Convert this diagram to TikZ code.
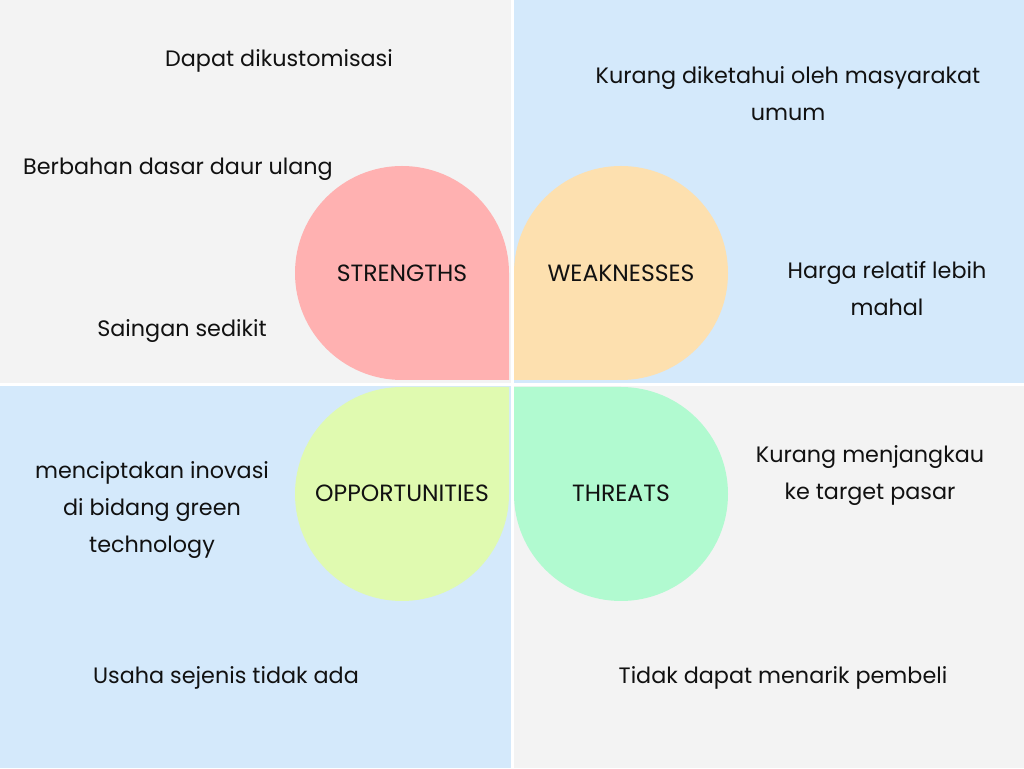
\documentclass[tikz,border=0pt]{standalone}
\usepackage{fontspec}
\setmainfont{Poppins}
\usepackage{tikz}
\definecolor{bggray}{HTML}{F3F3F3}
\definecolor{bgblue}{HTML}{D4E9FB}
\definecolor{spink}{HTML}{FFB1B1}
\definecolor{worange}{HTML}{FDE0AF}
\definecolor{ogreen}{HTML}{E0FAB0}
\definecolor{tmint}{HTML}{B1FAD0}
\definecolor{ink}{HTML}{111111}

\begin{document}
\begin{tikzpicture}[x=1pt,y=1pt,label/.style={font=\fontsize{22.3}{37}\selectfont,text=ink,align=center,inner sep=0},petal/.style={label,font=\fontsize{23.5}{37}\selectfont}]
	\useasboundingbox (0,0) rectangle (1024,768);
	\fill[white] (0,0) rectangle (1024,768);
	\fill[bggray] (0,385) rectangle (511,768);
	\fill[bgblue] (514,385) rectangle (1024,768);
	\fill[bgblue] (0,0) rectangle (511,382);
	\fill[bggray] (514,0) rectangle (1024,382);
	\fill[spink] (509,495) arc (0:270:107) -- (509,388) -- cycle;
	\fill[worange] (621,388) arc (-90:180:107) -- (514,388) -- cycle;
	\fill[ogreen] (402,381) arc (90:360:107) -- (509,381) -- cycle;
	\fill[tmint] (514,274) arc (180:450:107) -- (514,381) -- cycle;
	\node at (402,495) [petal] (s) {STRENGTHS};
	\node at (621,495) [petal] (w) {WEAKNESSES};
	\node at (402,275) [petal] (o) {OPPORTUNITIES};
	\node at (621,275) [petal] (t) {THREATS};
	\node at (279,707) [label] (s1) {Dapat dikustomisasi};
	\node at (178,599) [label] (s2) {Berbahan dasar daur ulang};
	\node at (182,437) [label] (s3) {Saingan sedikit};
	\node at (788,674) [label] (w1) {Kurang diketahui oleh masyarakat\\umum};
	\node at (887,479) [label] (w2) {Harga relatif lebih\\mahal};
	\node at (152,258) [label] (o1) {menciptakan inovasi\\di bidang green\\technology};
	\node at (226,90) [label] (o2) {Usaha sejenis tidak ada};
	\node at (870,292) [label] (t1) {Kurang menjangkau\\ke target pasar};
	\node at (783,90) [label] (t2) {Tidak dapat menarik pembeli};
\end{tikzpicture}
\end{document}
